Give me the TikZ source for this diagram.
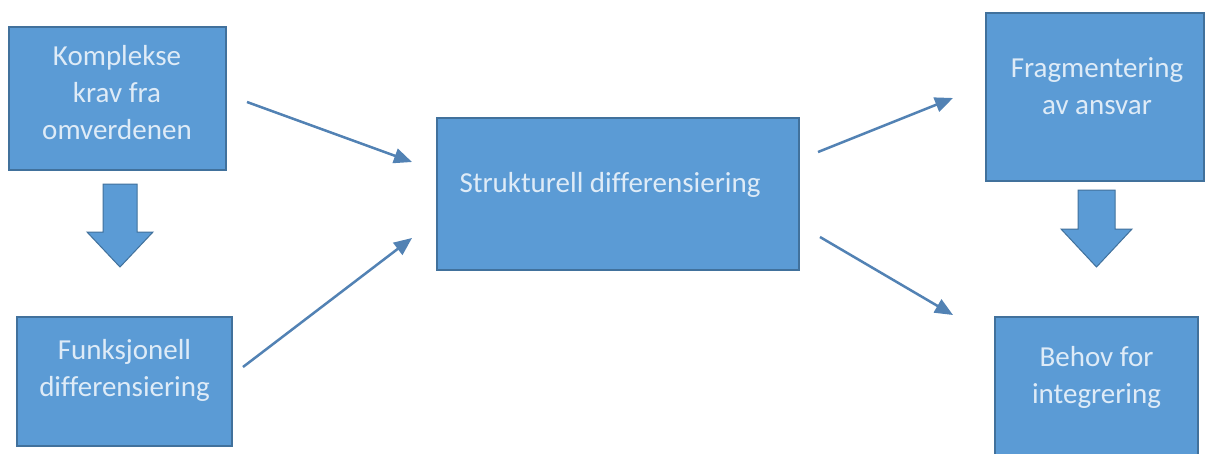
\documentclass[tikz,border=0pt]{standalone}
\usepackage{fontspec}
\setmainfont[Ligatures=NoCommon]{Carlito}
\usetikzlibrary{
	arrows.meta,
	positioning
}
\definecolor{boksblaa}{RGB}{91,155,213}
\definecolor{kantblaa}{RGB}{65,113,156}
\definecolor{pilblaa}{RGB}{82,130,180}
\definecolor{tekstblaa}{RGB}{222,235,247}

\begin{document}
\begin{tikzpicture}
[x=1pt,y=-1pt,
boks/.style={rectangle,draw=kantblaa,fill=boksblaa,line width=1.5pt,inner sep=0pt},
tekst/.style={text=tekstblaa,align=center,font=\fontsize{29}{37}\selectfont},
pil/.style={draw=pilblaa,line width=2.5pt,-{Triangle[length=18pt,width=15pt]}},
blokkpil/.style={draw=kantblaa,fill=boksblaa,line width=1pt}]
\fill[white] (0,0) rectangle (1209,453);
\useasboundingbox (0,0) rectangle (1209,453);
% bokser
\node (kompleks) at (117.5,98.5) [boks,minimum width=217pt,minimum height=143pt] {};
\node (funksjonell) at (124.5,381.5) [boks,minimum width=215pt,minimum height=129pt] {};
\node (struktur) at (618,194) [boks,minimum width=362pt,minimum height=152pt] {};
\node (fragment) at (1095,97) [boks,minimum width=218pt,minimum height=168pt] {};
\node (behov) at (1096.5,386.5) [boks,minimum width=203pt,minimum height=139pt] {};
% tekster
\node (kompleks-tekst) at (117,93) [tekst] {Komplekse\\krav fra\\omverdenen};
\node (funksjonell-tekst) at (124.5,370) [tekst] {Funksjonell\\differensiering};
\node (struktur-tekst) at (610,185) [tekst] {Strukturell differensiering};
\node (fragment-tekst) at (1097,86) [tekst] {Fragmentering\\av ansvar};
\node (behov-tekst) at (1096.5,377) [tekst] {Behov for\\integrering};
% piler
\coordinate (p1a) at (247,102);
\coordinate (p1b) at (412,162);
\coordinate (p2a) at (243,367);
\coordinate (p2b) at (412,238);
\coordinate (p3a) at (818,152);
\coordinate (p3b) at (953,98);
\coordinate (p4a) at (820,237);
\coordinate (p4b) at (953,315);
\draw[pil] (p1a) -- (p1b);
\draw[pil] (p2a) -- (p2b);
\draw[pil] (p3a) -- (p3b);
\draw[pil] (p4a) -- (p4b);
% blokkpiler
\coordinate (blokk1) at (120,184);
\coordinate (blokk2) at (1096.5,190);
\draw[blokkpil] (blokk1) ++(-17,0) -- ++(34,0) -- ++(0,48) -- ++(16,0) -- ++(-33,35) -- ++(-33,-35) -- ++(16,0) -- cycle;
\draw[blokkpil] (blokk2) ++(-18.5,0) -- ++(37,0) -- ++(0,39) -- ++(17,0) -- ++(-35.5,38) -- ++(-35.5,-38) -- ++(17,0) -- cycle;
\end{tikzpicture}
\end{document}
